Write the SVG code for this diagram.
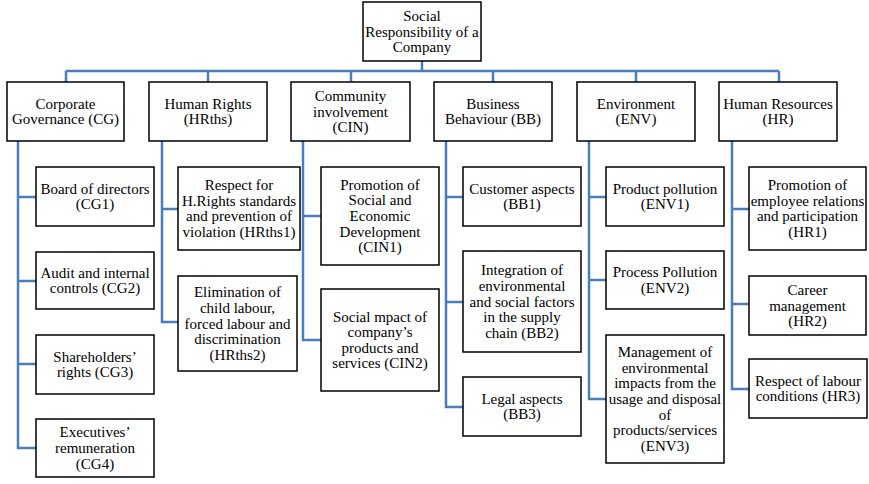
<svg xmlns="http://www.w3.org/2000/svg" width="869" height="484" viewBox="0 0 869 484">
<style>
.box{fill:#fff;stroke:#000;stroke-width:1.5}
.t{font-size:15px;text-anchor:middle;fill:#000}
.c{fill:none;stroke:#4A7EBB;stroke-width:2.5}
</style>
<rect width="869" height="484" fill="#fff"/>
<g id="connectors">
<path class="c" d="M422 61V71M66 71H779M66 71V82M208 71V82M351 71V82M493 71V82M636 71V82M779 71V82"/>
<path class="c" d="M18 141V448H36M18 197H36M18 281H36M18 364H36"/>
<path class="c" d="M162 141V322H178M162 209H178"/>
<path class="c" d="M303 141V340H321M303 216H321"/>
<path class="c" d="M446 141V407H463M446 197H463M446 302H463"/>
<path class="c" d="M589 141V399H606M589 197H606M589 280H606"/>
<path class="c" d="M732 141V389H749M732 209H749M732 304H749"/>
</g>
<g font-family="Liberation Serif, Times New Roman, serif">
<g id="root"><rect class="box" x="363" y="2" width="118" height="59"/>
<text class="t" x="422" y="21">Social</text><text class="t" x="422" y="36.5">Responsibility of a</text><text class="t" x="422" y="52">Company</text></g>
<g id="CG"><rect class="box" x="7" y="82" width="117" height="59"/>
<text class="t" x="65.5" y="109">Corporate</text><text class="t" x="65.5" y="124">Governance (CG)</text></g>
<g id="HRths"><rect class="box" x="149" y="82" width="118" height="59"/>
<text class="t" x="208" y="109">Human Rights</text><text class="t" x="208" y="124">(HRths)</text></g>
<g id="CIN"><rect class="box" x="291" y="82" width="119" height="59"/>
<text class="t" x="350.5" y="101">Community</text><text class="t" x="350.5" y="116.5">involvement</text><text class="t" x="350.5" y="132">(CIN)</text></g>
<g id="BB"><rect class="box" x="434" y="82" width="118" height="59"/>
<text class="t" x="493" y="109">Business</text><text class="t" x="493" y="124">Behaviour (BB)</text></g>
<g id="ENV"><rect class="box" x="577" y="82" width="118" height="59"/>
<text class="t" x="636" y="109">Environment</text><text class="t" x="636" y="124">(ENV)</text></g>
<g id="HR"><rect class="box" x="719" y="82" width="118" height="59"/>
<text class="t" x="778" y="109">Human Resources</text><text class="t" x="778" y="124">(HR)</text></g>

<g id="CG1"><rect class="box" x="36" y="167" width="118" height="59"/>
<text class="t" x="95" y="194">Board of directors</text><text class="t" x="95" y="209">(CG1)</text></g>
<g id="CG2"><rect class="box" x="36" y="252" width="118" height="57"/>
<text class="t" x="95" y="278">Audit and internal</text><text class="t" x="95" y="293">controls (CG2)</text></g>
<g id="CG3"><rect class="box" x="36" y="335" width="118" height="59"/>
<text class="t" x="95" y="362">Shareholders’</text><text class="t" x="95" y="377">rights (CG3)</text></g>
<g id="CG4"><rect class="box" x="36" y="419" width="118" height="58"/>
<text class="t" x="95" y="437">Executives’</text><text class="t" x="95" y="453">remuneration</text><text class="t" x="95" y="469">(CG4)</text></g>

<g id="HRths1"><rect class="box" x="178" y="167" width="122" height="83"/>
<text class="t" x="239" y="190">Respect for</text><text class="t" x="239" y="206">H.Rights standards</text><text class="t" x="239" y="221">and prevention of</text><text class="t" x="239" y="237">violation (HRths1)</text></g>
<g id="HRths2"><rect class="box" x="178" y="276" width="119" height="95"/>
<text class="t" x="237.5" y="297">Elimination of</text><text class="t" x="237.5" y="313">child labour,</text><text class="t" x="237.5" y="328.5">forced labour and</text><text class="t" x="237.5" y="344">discrimination</text><text class="t" x="237.5" y="360">(HRths2)</text></g>

<g id="CIN1"><rect class="box" x="321" y="167" width="118" height="98"/>
<text class="t" x="380" y="190">Promotion of</text><text class="t" x="380" y="205">Social and</text><text class="t" x="380" y="221">Economic</text><text class="t" x="380" y="237">Development</text><text class="t" x="380" y="252">(CIN1)</text></g>
<g id="CIN2"><rect class="box" x="321" y="289" width="118" height="102"/>
<text class="t" x="380" y="322">Social mpact of</text><text class="t" x="380" y="337">company’s</text><text class="t" x="380" y="353">products and</text><text class="t" x="380" y="368">services (CIN2)</text></g>

<g id="BB1"><rect class="box" x="463" y="167" width="118" height="59"/>
<text class="t" x="522" y="194">Customer aspects</text><text class="t" x="522" y="209">(BB1)</text></g>
<g id="BB2"><rect class="box" x="463" y="251" width="118" height="101"/>
<text class="t" x="522" y="275">Integration of</text><text class="t" x="522" y="291">environmental</text><text class="t" x="522" y="306.5">and social factors</text><text class="t" x="522" y="322">in the supply</text><text class="t" x="522" y="338">chain (BB2)</text></g>
<g id="BB3"><rect class="box" x="463" y="377" width="118" height="59"/>
<text class="t" x="522" y="404">Legal aspects</text><text class="t" x="522" y="419">(BB3)</text></g>

<g id="ENV1"><rect class="box" x="606" y="167" width="118" height="59"/>
<text class="t" x="665" y="194">Product pollution</text><text class="t" x="665" y="209">(ENV1)</text></g>
<g id="ENV2"><rect class="box" x="606" y="251" width="118" height="58"/>
<text class="t" x="665" y="277">Process Pollution</text><text class="t" x="665" y="293">(ENV2)</text></g>
<g id="ENV3"><rect class="box" x="606" y="335" width="118" height="128"/>
<text class="t" x="665" y="357">Management of</text><text class="t" x="665" y="373">environmental</text><text class="t" x="665" y="388">impacts from the</text><text class="t" x="665" y="404">usage and disposal</text><text class="t" x="665" y="420">of</text><text class="t" x="665" y="435">products/services</text><text class="t" x="665" y="451">(ENV3)</text></g>

<g id="HR1"><rect class="box" x="749" y="167" width="117" height="83"/>
<text class="t" x="807.5" y="190">Promotion of</text><text class="t" x="807.5" y="206">employee relations</text><text class="t" x="807.5" y="221">and participation</text><text class="t" x="807.5" y="237">(HR1)</text></g>
<g id="HR2"><rect class="box" x="749" y="276" width="117" height="59"/>
<text class="t" x="807.5" y="295">Career</text><text class="t" x="807.5" y="310.5">management</text><text class="t" x="807.5" y="326">(HR2)</text></g>
<g id="HR3"><rect class="box" x="749" y="359" width="118" height="59"/>
<text class="t" x="808" y="386">Respect of labour</text><text class="t" x="808" y="401">conditions (HR3)</text></g>
</g>
</svg>
